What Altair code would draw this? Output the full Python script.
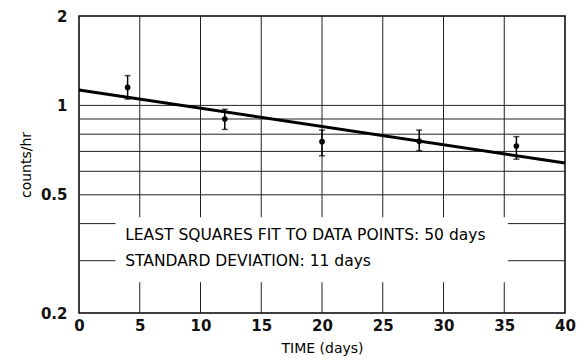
import altair as alt
import pandas as pd

# data
days = [4, 12, 20, 28, 36]
rate = [1.15, 0.90, 0.755, 0.758, 0.73]
rate_low = [1.05, 0.83, 0.677, 0.704, 0.659]
rate_high = [1.26, 0.97, 0.826, 0.826, 0.785]

fit_days = [0, 40]
fit_rate = [1.127, 0.64]

x_ticks = [0, 5, 10, 15, 20, 25, 30, 35, 40]
y_ticks = [0.2, 0.5, 1, 2]
grid_x = [5, 10, 15, 20, 25, 30, 35]
grid_y = [0.3, 0.4, 0.5, 0.6, 0.7, 0.8, 0.9, 1.0]

note_lines = ["LEAST SQUARES FIT TO DATA POINTS: 50 days", "STANDARD DEVIATION: 11 days"]
note_y = [0.365, 0.3]

pts = pd.DataFrame({"t": days, "r": rate, "lo": rate_low, "hi": rate_high})
fit = pd.DataFrame({"t": fit_days, "r": fit_rate})
gx = pd.DataFrame({"t": grid_x})
gy = pd.DataFrame({"r": grid_y})
notes = pd.DataFrame({"txt": note_lines, "r": note_y})

FONT = "DejaVu Sans"
xs = alt.Scale(domain=[0, 40], nice=False, zero=False)
ys = alt.Scale(type="log", domain=[0.2, 2], nice=False)

xaxis = alt.Axis(values=x_ticks, grid=False, ticks=False, domain=False, labelPadding=5,
                 labelFontSize=15, labelFont=FONT, labelFontWeight="bold", labelColor="#111",
                 title="TIME (days)", titleFont=FONT, titleFontSize=14, titleFontWeight="normal",
                 titleColor="black", titlePadding=8, labelFlush=False)
yaxis = alt.Axis(values=y_ticks, grid=False, ticks=False, domain=False, labelPadding=12,
                 labelFontSize=15, labelFont=FONT, labelFontWeight="bold", labelColor="#111",
                 format="~g", title="counts/hr", titleFont=FONT, titleFontSize=14,
                 titleFontWeight="normal", titleColor="black", titlePadding=7, labelFlush=False)

vgrid = alt.Chart(gx).mark_rule(color="#222", strokeWidth=1).encode(
    x=alt.X("t:Q", scale=xs, axis=xaxis))
hgrid = alt.Chart(gy).mark_rule(color="#222", strokeWidth=1).encode(
    y=alt.Y("r:Q", scale=ys, axis=yaxis))

box = alt.Chart(pd.DataFrame({"a": [0]})).mark_rect(color="white").encode(
    x=alt.datum(3, scale=xs), x2=alt.datum(35.3),
    y=alt.datum(0.254, scale=ys), y2=alt.datum(0.42))

text = alt.Chart(notes).mark_text(align="left", baseline="middle", font=FONT, fontSize=15.5,
                                  color="black").encode(
    x=alt.datum(3.8, scale=xs), y=alt.Y("r:Q", scale=ys), text="txt:N")

fitline = alt.Chart(fit).mark_line(color="black", strokeWidth=3).encode(
    x=alt.X("t:Q", scale=xs), y=alt.Y("r:Q", scale=ys))

bars = alt.Chart(pts).mark_rule(color="black", strokeWidth=1.5).encode(
    x=alt.X("t:Q", scale=xs), y=alt.Y("lo:Q", scale=ys), y2="hi:Q")
cap_lo = alt.Chart(pts).mark_tick(color="black", orient="horizontal", size=6, thickness=1.5).encode(
    x=alt.X("t:Q", scale=xs), y=alt.Y("lo:Q", scale=ys))
cap_hi = alt.Chart(pts).mark_tick(color="black", orient="horizontal", size=6, thickness=1.5).encode(
    x=alt.X("t:Q", scale=xs), y=alt.Y("hi:Q", scale=ys))
dots = alt.Chart(pts).mark_point(color="black", filled=True, size=32, opacity=1).encode(
    x=alt.X("t:Q", scale=xs), y=alt.Y("r:Q", scale=ys))

chart = alt.layer(vgrid, hgrid, box, text, fitline, bars, cap_lo, cap_hi, dots).properties(
    width=486, height=297,
    autosize=alt.AutoSizeParams(type="none"),
    padding={"left": 79, "top": 16, "right": 12, "bottom": 50},
    background="white",
).configure_view(stroke="black", strokeWidth=1.5)

chart.save("out.html", embed_options={"renderer": "svg", "actions": False})
